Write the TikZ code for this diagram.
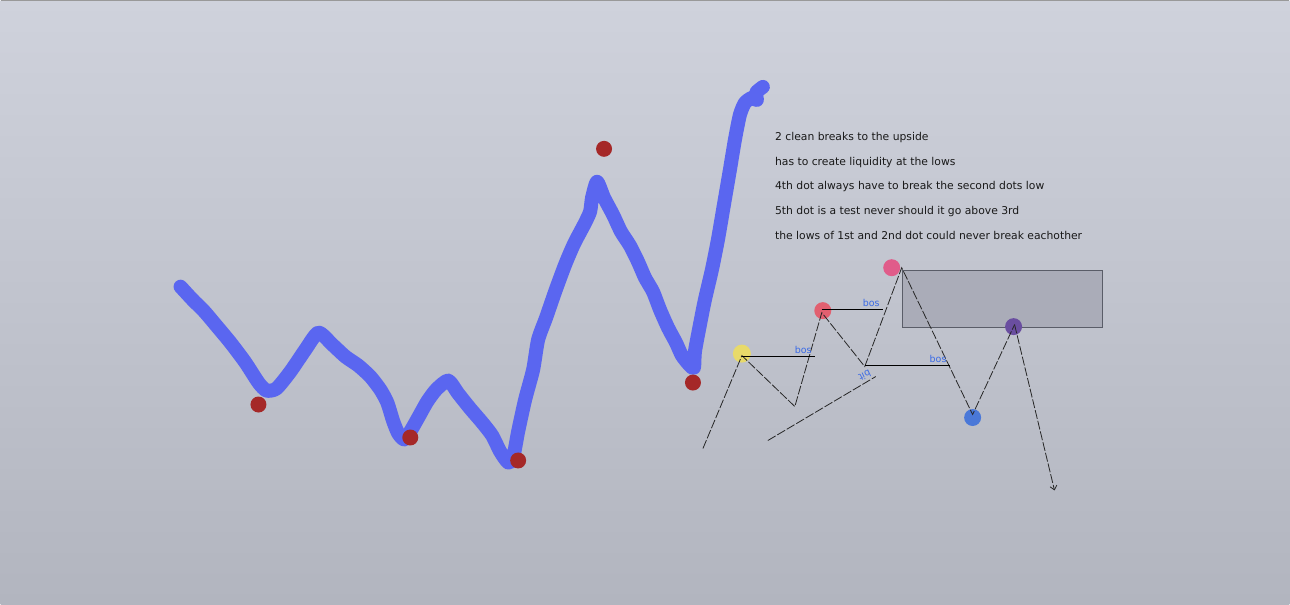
\documentclass[tikz,border=0pt]{standalone}
\usepackage{fontspec}
\setmainfont{DejaVu Sans}
\usepackage{tikz}
\usetikzlibrary{arrows.meta,positioning}
\definecolor{bgtop}{RGB}{207,210,220}
\definecolor{bgbot}{RGB}{178,181,191}
\definecolor{penblue}{RGB}{90,102,240}
\definecolor{dotred}{RGB}{165,40,40}
\definecolor{dotyellow}{RGB}{232,218,106}
\definecolor{dotsalmon}{RGB}{226,96,112}
\definecolor{dotpink}{RGB}{224,92,138}
\definecolor{dotblue}{RGB}{74,120,216}
\definecolor{dotpurple}{RGB}{106,78,160}
\definecolor{boslbl}{RGB}{58,106,230}
\definecolor{zonefill}{RGB}{170,172,184}
\definecolor{zoneedge}{RGB}{90,93,104}
\tikzset{
    dot/.style={circle, fill=#1, inner sep=0pt, minimum size=16pt},
    pen/.style={penblue, line width=14pt, line cap=round, line join=round},
    leg/.style={dash pattern=on 9pt off 2pt, line width=0.8pt, black!85},
    lvl/.style={line width=1pt, black},
    boslabel/.style={font=\fontsize{9.5}{10}\selectfont, text=boslbl, inner sep=0pt},
    note/.style={font=\fontsize{10.8}{12}\selectfont, text=black!90, inner sep=0pt, anchor=west},
}
\begin{document}
\begin{tikzpicture}[x=1pt, y=-1pt]
    % backdrop
    \fill[top color=bgtop, bottom color=bgbot] (0,0) rectangle (1290,605);
    \draw[line width=1.5pt, black!40] (0,0.75) -- (1290,0.75);
    \useasboundingbox (0,0) rectangle (1290,605);

    % hand drawn price path
    \draw[pen] plot[smooth, tension=0.4] coordinates {
        (180,287) (192,300) (204,312) (215,325) (230,343) (245,363) (258,383)
        (266,391) (276,389) (290,372) (305,350) (318,333) (332,345) (345,357)
        (358,366) (370,377) (380,390) (387,403) (393,422) (398,434) (404,440)
        (410,432) (418,418) (427,402) (436,390) (448,381) (458,394) (470,409)
        (482,423) (492,436) (500,452) (508,463) (513,458) (518,432) (525,400)
        (533,370) (538,340) (546,318) (555,292) (565,265) (574,244) (584,225)
        (590,212) (592,198) (597,182) (604,198) (613,215) (621,232) (630,246)
        (638,262) (645,278) (653,292) (660,310) (668,328) (676,343) (682,356)
        (690,366) (694,368) (695,352) (700,325) (705,300) (712,270) (718,240)
        (724,205) (730,170) (735,140) (740,115) (745,103) (752,98) (757,100)
        (756,93) (763,87)};

    % swing dots on the path
    \node[dot=dotred] (r1) at (258,405) {};
    \node[dot=dotred] (r2) at (410,438) {};
    \node[dot=dotred] (r3) at (518,461) {};
    \node[dot=dotred] (r4) at (604,149) {};
    \node[dot=dotred] (r5) at (693,383) {};

    % notes
    \node[note] (n1) at (775,138) {2 clean breaks to the upside};
    \node[note, below=24.5pt of n1.west, anchor=west] (n2) {has to create liquidity at the lows};
    \node[note, below=24.5pt of n2.west, anchor=west] (n3) {4th dot always have to break the second dots low};
    \node[note, below=24.5pt of n3.west, anchor=west] (n4) {5th dot is a test never should it go above 3rd};
    \node[note, below=24.5pt of n4.west, anchor=west] (n5) {the lows of 1st and 2nd dot could never break eachother};

    % supply zone
    \draw[fill=zonefill, draw=zoneedge, line width=0.8pt] (903,271) rectangle (1103,328);

    % structure dots
    \node[dot=dotyellow, minimum size=18pt] (d1) at (742,354) {};
    \node[dot=dotsalmon, minimum size=17pt] (d2) at (823,311) {};
    \node[dot=dotpink, minimum size=17pt]   (d3) at (892,268) {};
    \node[dot=dotblue, minimum size=17pt]   (d4) at (973,418) {};
    \node[dot=dotpurple, minimum size=17pt] (d5) at (1014,327) {};

    \coordinate (s0) at (703,449);
    \coordinate (p1) at (742,356);
    \coordinate (l1) at (795,407);
    \coordinate (p2) at (822,313);
    \coordinate (l2) at (865,367);
    \coordinate (p3) at (902,268);
    \coordinate (l3) at (973,415);
    \coordinate (p4) at (1015,325);
    \coordinate (e0) at (1055,491);
    \coordinate (t0) at (768,441);
    \coordinate (t1) at (876,377);

    % zigzag legs
    \draw[leg] (s0) -- (p1) -- (l1) -- (p2) -- (l2) -- (p3) -- (l3) -- (p4);
    \draw[leg, -{Straight Barb[length=4pt, width=7pt]}] (p4) -- (e0);
    \draw[leg] (t0) -- (t1);

    % break of structure levels
    \draw[lvl] (p1) ++(0,1) -- ++(73,0) coordinate (b1);
    \draw[lvl] (p2) ++(0,-3) -- ++(61,0) coordinate (b2);
    \draw[lvl] (l2) ++(0,-1) -- ++(85,0) coordinate (b3);
    \node[boslabel, above left=3pt and 3pt of b1] {bos};
    \node[boslabel, above left=3pt and 3pt of b2] {bos};
    \node[boslabel, above left=3pt and 3pt of b3] {bos};
    \node[boslabel, rotate=205] (bt) at (865,376) {bit};
\end{tikzpicture}
\end{document}
